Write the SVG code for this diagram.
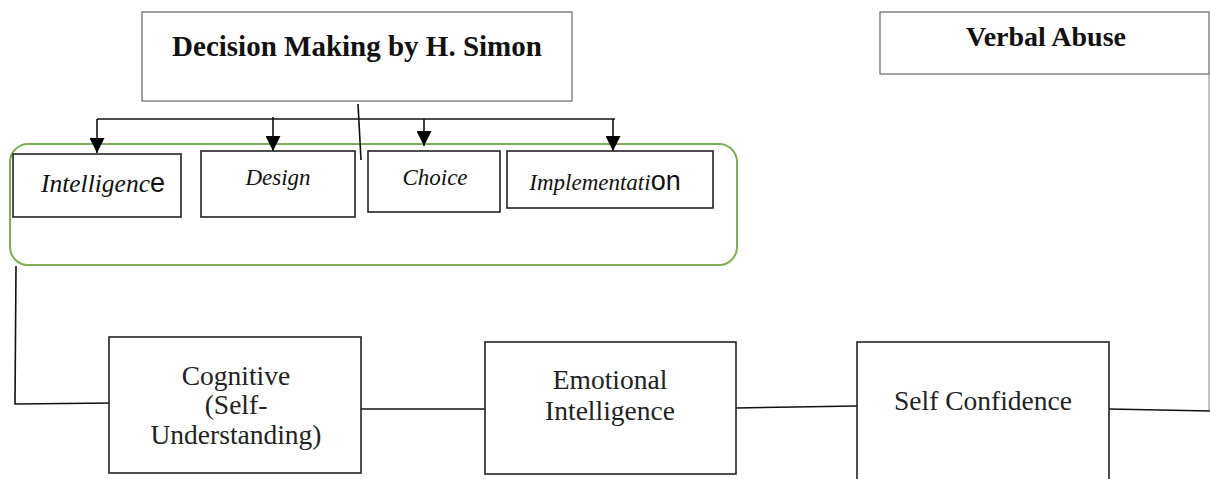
<svg xmlns="http://www.w3.org/2000/svg" width="1210" height="479" viewBox="0 0 1210 479">
<defs>
<marker id="ah" markerUnits="userSpaceOnUse" markerWidth="16" markerHeight="15" refX="15" refY="7.5" orient="auto" viewBox="0 0 16 15">
<path d="M0,0 L15,7.5 L0,15 Z" fill="#000"/>
</marker>
<style>
.tb{fill:#fff;stroke:#666;stroke-width:1.2}
.bx{fill:#fff;stroke:#222;stroke-width:1.6}
.ln{fill:none;stroke:#111;stroke-width:1.6}
.lg{fill:none;stroke:#999;stroke-width:1.2}
.ttl{font-family:"Liberation Serif",serif;font-weight:bold;font-size:29px;fill:#111;text-anchor:middle}
.it{font-family:"Liberation Serif",serif;font-style:italic;font-size:23px;fill:#111;text-anchor:middle}
.sn{font-family:"Liberation Sans",sans-serif;font-style:normal;font-size:27px}
.rg{font-family:"Liberation Serif",serif;font-size:27.5px;fill:#222;text-anchor:middle}
</style>
</defs>
<rect x="10" y="144" width="727" height="121" rx="18" fill="none" stroke="#7cae52" stroke-width="2"/>
<g id="connectors">
<line class="ln" x1="358" y1="104" x2="361" y2="160" stroke-width="1.3"/>
<line class="ln" x1="97" y1="119" x2="615" y2="119"/>
<line class="ln" x1="97" y1="119" x2="97" y2="153" marker-end="url(#ah)"/>
<line class="ln" x1="273" y1="117" x2="273" y2="151" marker-end="url(#ah)"/>
<line class="ln" x1="424" y1="119" x2="424" y2="146" marker-end="url(#ah)"/>
<line class="ln" x1="613" y1="119" x2="613" y2="151" marker-end="url(#ah)"/>
<polyline class="ln" points="16,266 15,404 113,403"/>
<line class="ln" x1="358" y1="409" x2="490" y2="409"/>
<line class="ln" x1="736" y1="408" x2="857" y2="406"/>
<line class="ln" x1="1109" y1="409" x2="1210" y2="411"/>
<line class="lg" x1="1209" y1="74" x2="1209" y2="410"/>
</g>
<g id="decision-making">
<rect class="tb" x="142" y="12" width="430" height="89"/>
<text class="ttl" x="357" y="56">Decision Making by H. Simon</text>
</g>
<g id="verbal-abuse">
<rect class="tb" x="880" y="12" width="329" height="62"/>
<text class="ttl" x="1046" y="46" style="font-size:28px">Verbal Abuse</text>
</g>
<g id="intelligence">
<rect class="bx" x="13" y="154" width="168" height="63"/>
<text class="it" x="103" y="192" style="font-size:25.5px">Intelligenc<tspan class="sn">e</tspan></text>
</g>
<g id="design">
<rect class="bx" x="201" y="151" width="154" height="66"/>
<text class="it" x="278" y="185">Design</text>
</g>
<g id="choice">
<rect class="bx" x="368" y="151" width="132" height="61"/>
<text class="it" x="435" y="185">Choice</text>
</g>
<g id="implementation">
<rect class="bx" x="507" y="151" width="206" height="57"/>
<text class="it" x="605" y="190">Implementati<tspan class="sn">on</tspan></text>
</g>
<g id="cognitive">
<rect class="bx" x="109" y="337" width="252" height="136"/>
<text class="rg" x="236" y="385">Cognitive</text>
<text class="rg" x="236" y="414">(Self-</text>
<text class="rg" x="236" y="444">Understanding)</text>
</g>
<g id="emotional-intelligence">
<rect class="bx" x="485" y="342" width="251" height="132"/>
<text class="rg" x="610" y="389">Emotional</text>
<text class="rg" x="610" y="420">Intelligence</text>
</g>
<g id="self-confidence">
<rect class="bx" x="857" y="342" width="252" height="145"/>
<text class="rg" x="983" y="410">Self Confidence</text>
</g>
</svg>
